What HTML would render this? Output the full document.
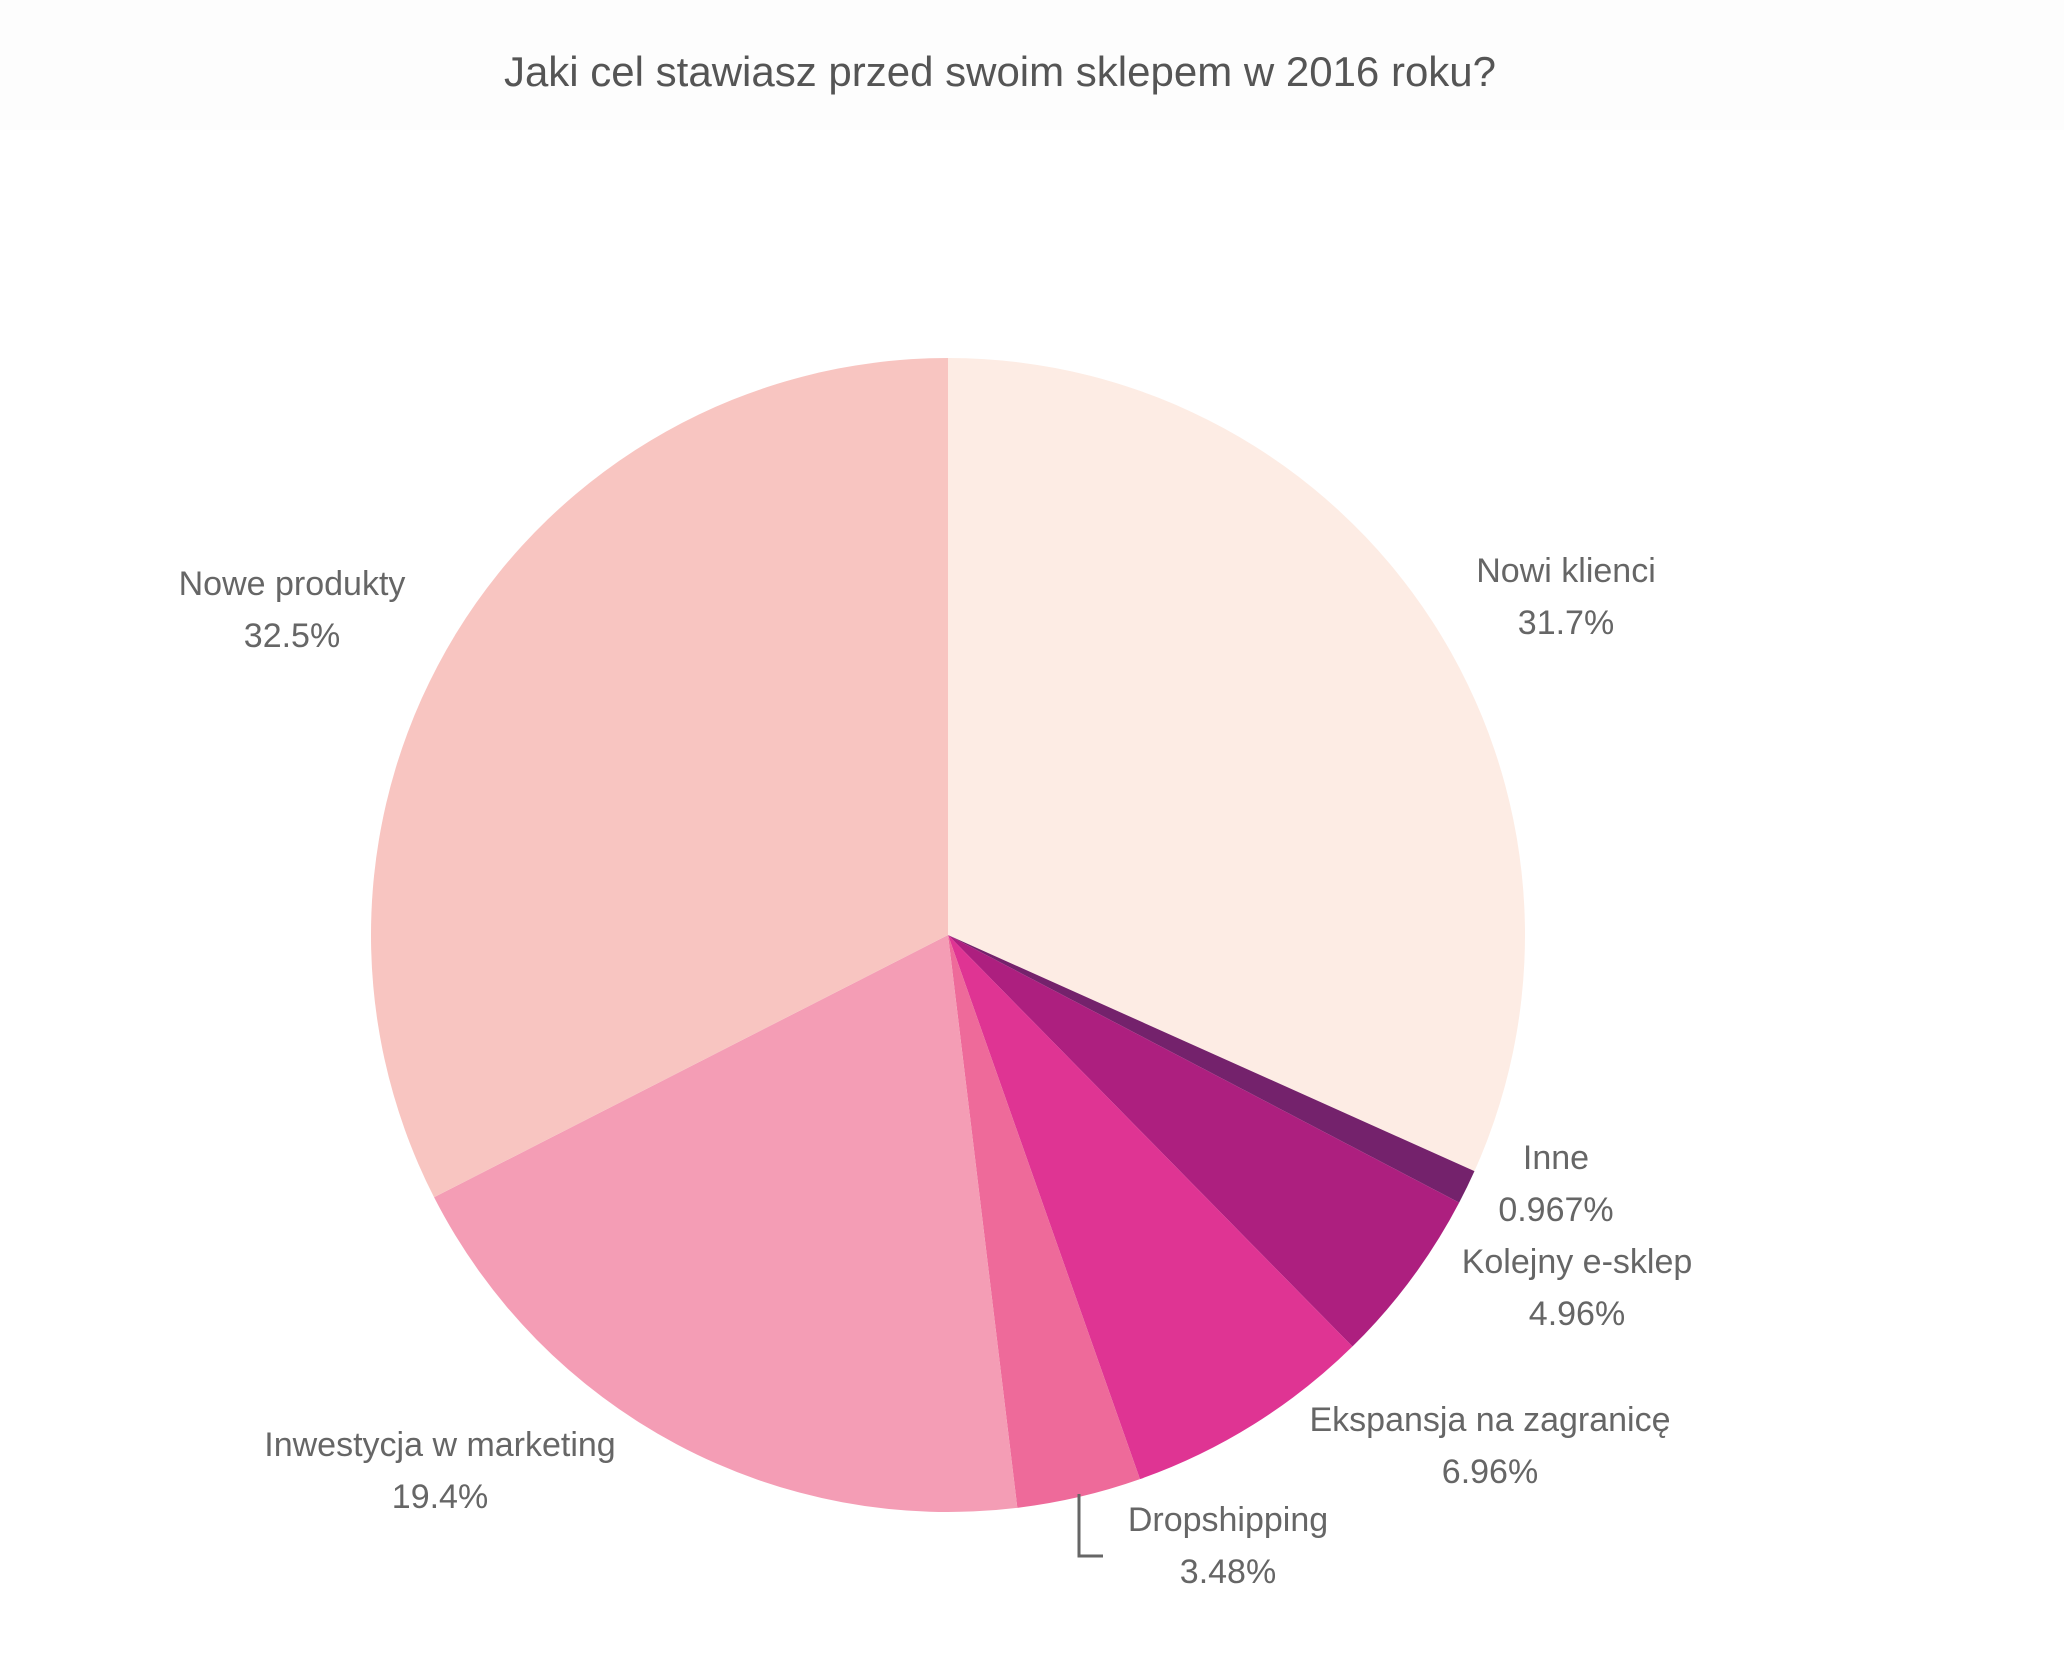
<!DOCTYPE html>
<html><head><meta charset="utf-8"><style>
html,body{margin:0;padding:0;background:#fff;}
svg{display:block;}
text{font-family:"Liberation Sans",sans-serif;}
</style></head><body>
<svg width="2064" height="1660" viewBox="0 0 2064 1660">
<rect x="0" y="0" width="2064" height="130" fill="#fdfdfd"/>
<text x="1000" y="86" text-anchor="middle" font-size="42" fill="#555">Jaki cel stawiasz przed swoim sklepem w 2016 roku?</text>
<g id="slices"></g>
<g id="labels"></g>
<path d="M1079 1494 V1556 H1103" fill="none" stroke="#666" stroke-width="3"/>
</svg>
<script>
const categories = ["Nowi klienci","Inne","Kolejny e-sklep","Ekspansja na zagranicę","Dropshipping","Inwestycja w marketing","Nowe produkty"];
const values = [31.7, 0.967, 4.96, 6.96, 3.48, 19.4, 32.5];
const valueLabels = ["31.7%","0.967%","4.96%","6.96%","3.48%","19.4%","32.5%"];
const colors = ["#fdece4","#74226c","#ad1f7f","#df3493","#ee6a9a","#f49db5","#f8c5c1"];
const labelPos = [[1566,582],[1556,1169],[1577,1273],[1490,1431],[1228,1531],[440,1456],[292,595]];
const cx=948, cy=935, r=577;
const NS="http://www.w3.org/2000/svg";
const total = values.reduce((a,b)=>a+b,0);
const sg=document.getElementById('slices'), lg=document.getElementById('labels');
let acc=0;
function pt(frac){const a=frac*2*Math.PI;return [cx+r*Math.sin(a), cy-r*Math.cos(a)];}
values.forEach((v,i)=>{
  const f0=acc/total; acc+=v; const f1=acc/total;
  const p0=pt(f0), p1=pt(f1);
  const large=(f1-f0)>0.5?1:0;
  const p=document.createElementNS(NS,'path');
  p.setAttribute('d',`M${cx} ${cy} L${p0[0]} ${p0[1]} A${r} ${r} 0 ${large} 1 ${p1[0]} ${p1[1]} Z`);
  p.setAttribute('fill',colors[i]);
  
  
  sg.appendChild(p);
  const [lx,ly]=labelPos[i];
  const t1=document.createElementNS(NS,'text');
  t1.setAttribute('x',lx);t1.setAttribute('y',ly);t1.setAttribute('text-anchor','middle');
  t1.setAttribute('font-size','34');t1.setAttribute('fill','#666');
  t1.textContent=categories[i];
  
  
  lg.appendChild(t1);
  const t2=document.createElementNS(NS,'text');
  t2.setAttribute('x',lx);t2.setAttribute('y',ly+52);t2.setAttribute('text-anchor','middle');
  t2.setAttribute('font-size','34');t2.setAttribute('fill','#666');
  t2.textContent=valueLabels[i];
  
  
  lg.appendChild(t2);
});
</script>
</body></html>
